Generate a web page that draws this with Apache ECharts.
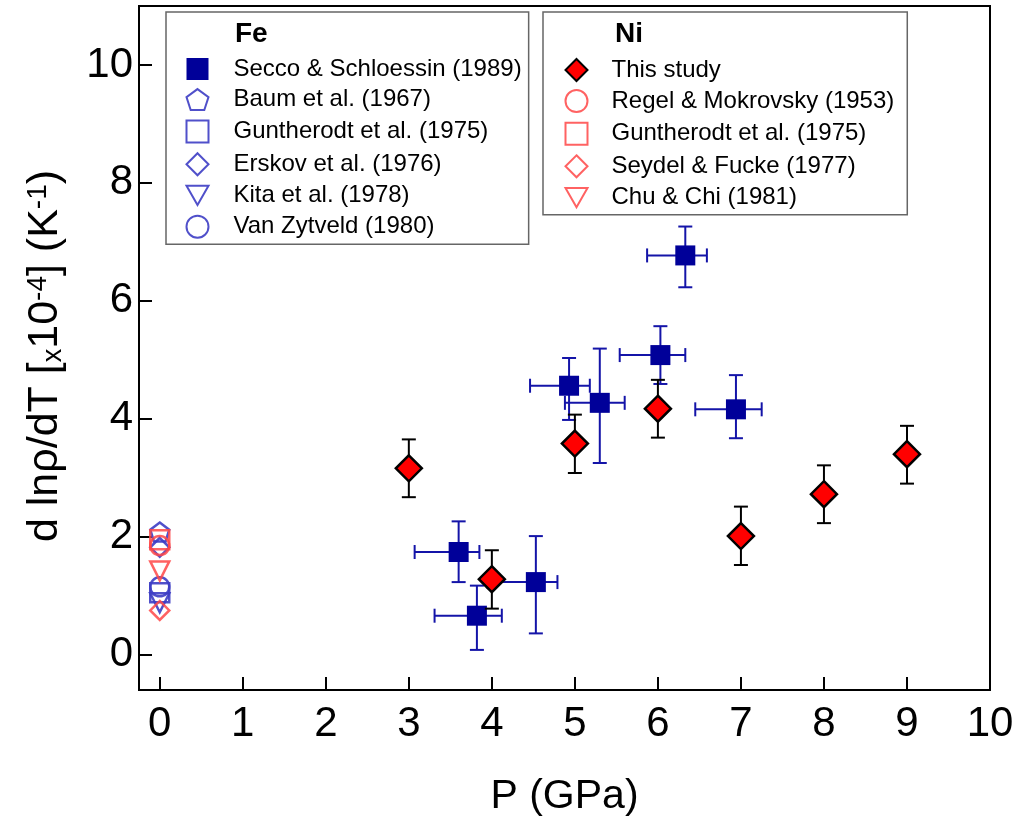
<!DOCTYPE html>
<html>
<head>
<meta charset="utf-8">
<script src="https://cdn.jsdelivr.net/npm/echarts@6/dist/echarts.min.js"></script>
<style>
  html, body { margin: 0; padding: 0; background: #fff; }
  #chart { width: 1020px; height: 822px; }
</style>
</head>
<body>
<div id="chart"></div>
<script>
(function () {
    'use strict';

    // tick labels
    var xTicks = [0, 1, 2, 3, 4, 5, 6, 7, 8, 9, 10];
    var yTicks = [0, 2, 4, 6, 8, 10];

    // Fe, Secco & Schloessin (1989) with x / y error ranges
    var seccoP   = [6.33, 6.03, 4.93, 5.30, 6.94, 3.60, 3.82, 4.53];
    var seccoY   = [6.77, 5.08, 4.56, 4.27, 4.16, 1.74, 0.66, 1.23];
    var seccoPLo = [5.87, 5.54, 4.46, 4.88, 6.45, 3.07, 3.31, 3.95];
    var seccoPHi = [6.59, 6.33, 5.18, 5.60, 7.25, 3.85, 4.12, 4.79];
    var seccoYLo = [6.23, 4.59, 3.98, 3.25, 3.67, 1.23, 0.08, 0.36];
    var seccoYHi = [7.26, 5.57, 5.03, 5.19, 4.74, 2.26, 1.17, 2.01];

    // Ni, this study
    var niP   = [3, 4, 5, 6, 7, 8, 9];
    var niY   = [3.16, 1.28, 3.58, 4.17, 2.01, 2.72, 3.40];
    var niYLo = [2.67, 0.78, 3.08, 3.68, 1.52, 2.23, 2.90];
    var niYHi = [3.65, 1.77, 4.07, 4.66, 2.51, 3.21, 3.88];

    // ambient pressure literature values (P = 0)
    var feNames = ['Baum et al. (1967)', 'Guntherodt et al. (1975)', 'Erskov et al. (1976)', 'Kita et al. (1978)', 'Van Zytveld (1980)'];
    var feValues = [2.08, 1.05, 1.82, 0.88, 1.15];
    var niNames = ['Regel & Mokrovsky (1953)', 'Guntherodt et al. (1975) ', 'Seydel & Fucke (1977)', 'Chu & Chi (1981)'];
    var niValues = [1.85, 1.95, 0.75, 1.42];

    var FONT = 'Liberation Sans, Arial, sans-serif';
    var BLUE = '#3d3dc4';
    var RED = '#ff4646';
    var NAVY = '#000099';

    var pentagon = 'path://M0,-1 L0.951,-0.309 L0.588,0.809 L-0.588,0.809 L-0.951,-0.309 Z';
    var triDown = 'path://M-1,-0.75 L1,-0.75 L0,1 Z';
    var feSymbols = [pentagon, 'rect', 'diamond', triDown, 'circle'];
    var niSymbols = ['circle', 'rect', 'diamond', triDown];

    var myChart = echarts.init(document.getElementById('chart'));

    function errorBars(showX, color) {
        return function (params, api) {
            var x = api.value(0), y = api.value(1);
            var c = api.coord([x, y]);
            var top = api.coord([x, api.value(5)]);
            var bot = api.coord([x, api.value(4)]);
            var cap = 7;
            var st = { stroke: color, lineWidth: 2 };
            var kids = [
                { type: 'line', shape: { x1: c[0], y1: top[1], x2: c[0], y2: bot[1] }, style: st },
                { type: 'line', shape: { x1: c[0] - cap, y1: top[1], x2: c[0] + cap, y2: top[1] }, style: st },
                { type: 'line', shape: { x1: c[0] - cap, y1: bot[1], x2: c[0] + cap, y2: bot[1] }, style: st }
            ];
            if (showX) {
                var lf = api.coord([api.value(2), y]);
                var rt = api.coord([api.value(3), y]);
                kids.push(
                    { type: 'line', shape: { x1: lf[0], y1: c[1], x2: rt[0], y2: c[1] }, style: st },
                    { type: 'line', shape: { x1: lf[0], y1: c[1] - cap, x2: lf[0], y2: c[1] + cap }, style: st },
                    { type: 'line', shape: { x1: rt[0], y1: c[1] - cap, x2: rt[0], y2: c[1] + cap }, style: st }
                );
            }
            return { type: 'group', children: kids };
        };
    }

    var seccoErr = seccoP.map(function (p, i) {
        return [p, seccoY[i], seccoPLo[i], seccoPHi[i], seccoYLo[i], seccoYHi[i]];
    });
    var niErr = niP.map(function (p, i) {
        return [p, niY[i], p, p, niYLo[i], niYHi[i]];
    });

    var series = [
        {
            type: 'custom', silent: true, z: 2,
            renderItem: errorBars(true, '#1414a8'),
            encode: { x: [0, 2, 3], y: [1, 4, 5] },
            data: seccoErr
        },
        {
            name: 'Secco & Schloessin (1989)', type: 'scatter', z: 3,
            symbol: 'rect', symbolSize: 20,
            itemStyle: { color: NAVY, borderColor: NAVY, borderWidth: 0, opacity: 1 },
            data: seccoP.map(function (p, i) { return [p, seccoY[i]]; })
        }
    ];

    feNames.forEach(function (n, i) {
        series.push({
            name: n, type: 'scatter', z: 4,
            symbol: feSymbols[i], symbolSize: 19,
            itemStyle: { color: 'none', borderColor: BLUE, borderWidth: 2.5, opacity: 0.9 },
            data: [[0, feValues[i]]]
        });
    });

    series.push({
        type: 'custom', silent: true, z: 5,
        renderItem: errorBars(false, '#000'),
        encode: { x: [0, 2, 3], y: [1, 4, 5] },
        data: niErr
    });
    series.push({
        name: 'This study', type: 'scatter', z: 6,
        symbol: 'diamond', symbolSize: 26,
        itemStyle: { color: '#ff0000', borderColor: '#000', borderWidth: 2.5, opacity: 1 },
        data: niP.map(function (p, i) { return [p, niY[i]]; })
    });

    niNames.forEach(function (n, i) {
        series.push({
            name: n, type: 'scatter', z: 7,
            symbol: niSymbols[i], symbolSize: 19,
            itemStyle: { color: 'none', borderColor: RED, borderWidth: 2.5, opacity: 0.85 },
            data: [[0, niValues[i]]]
        });
    });

    var legendBase = {
        orient: 'vertical',
        itemWidth: 22,
        itemHeight: 22,
        itemGap: 5.6,
        borderColor: '#666',
        borderWidth: 1.5,
        backgroundColor: '#fff',
        selectedMode: false,
        textStyle: { fontFamily: FONT, fontSize: 24, lineHeight: 24, color: '#000' }
    };

    var option = {
        animation: false,
        backgroundColor: '#fff',
        title: [
            { text: 'Fe', left: 230, top: 15, textStyle: { fontFamily: FONT, fontSize: 28, fontWeight: 'bold', color: '#000' } },
            { text: 'Ni', left: 610, top: 15, textStyle: { fontFamily: FONT, fontSize: 28, fontWeight: 'bold', color: '#000' } }
        ],
        legend: [
            echarts.util.merge({
                left: 166, top: 12,
                padding: [45, 7, 4, 18],
                textStyle: { padding: [0, 0, 0, 20] },
                data: ['Secco & Schloessin (1989)'].concat(feNames)
            }, legendBase),
            echarts.util.merge({
                left: 543, top: 12,
                padding: [46, 13, 5, 20],
                textStyle: { padding: [0, 0, 0, 19] },
                data: ['This study'].concat(niNames)
            }, legendBase)
        ],
        grid: {
            left: 139, right: 30, top: 6, bottom: 132,
            show: true, borderColor: '#000', borderWidth: 2
        },
        xAxis: {
            type: 'value', min: -0.25, max: 10,
            name: 'P (GPa)', nameLocation: 'middle', nameGap: 86,
            nameTextStyle: { fontFamily: FONT, fontSize: 41, color: '#000' },
            axisLine: { show: true, onZero: false, lineStyle: { color: '#000', width: 2 } },
            axisTick: { show: true, inside: true, length: 13, customValues: xTicks, lineStyle: { color: '#000', width: 2 } },
            axisLabel: { customValues: xTicks, fontFamily: FONT, fontSize: 42, color: '#000', margin: 13 },
            splitLine: { show: false }
        },
        yAxis: {
            type: 'value', min: -0.6, max: 11,
            name: 'd ln\u03C1/dT [{s|x}10{sup|-4}] (K{sup|-1})',
            nameLocation: 'middle', nameRotate: 90, nameGap: 72,
            nameTextStyle: {
                fontFamily: FONT, fontSize: 43, color: '#000',
                padding: [0, 16, 0, 0],
                rich: {
                    s: { fontFamily: FONT, fontSize: 27, color: '#000', verticalAlign: 'bottom' },
                    sup: { fontFamily: FONT, fontSize: 28, color: '#000', verticalAlign: 'top' }
                }
            },
            axisLine: { show: true, onZero: false, lineStyle: { color: '#000', width: 2 } },
            axisTick: { show: true, inside: true, length: 13, customValues: yTicks, lineStyle: { color: '#000', width: 2 } },
            axisLabel: { customValues: yTicks, fontFamily: FONT, fontSize: 42, color: '#000', margin: 6 },
            splitLine: { show: false }
        },
        series: series
    };

    myChart.setOption(option);
    window.addEventListener('resize', function () {
        myChart.resize();
    });
})();
</script>
</body>
</html>
